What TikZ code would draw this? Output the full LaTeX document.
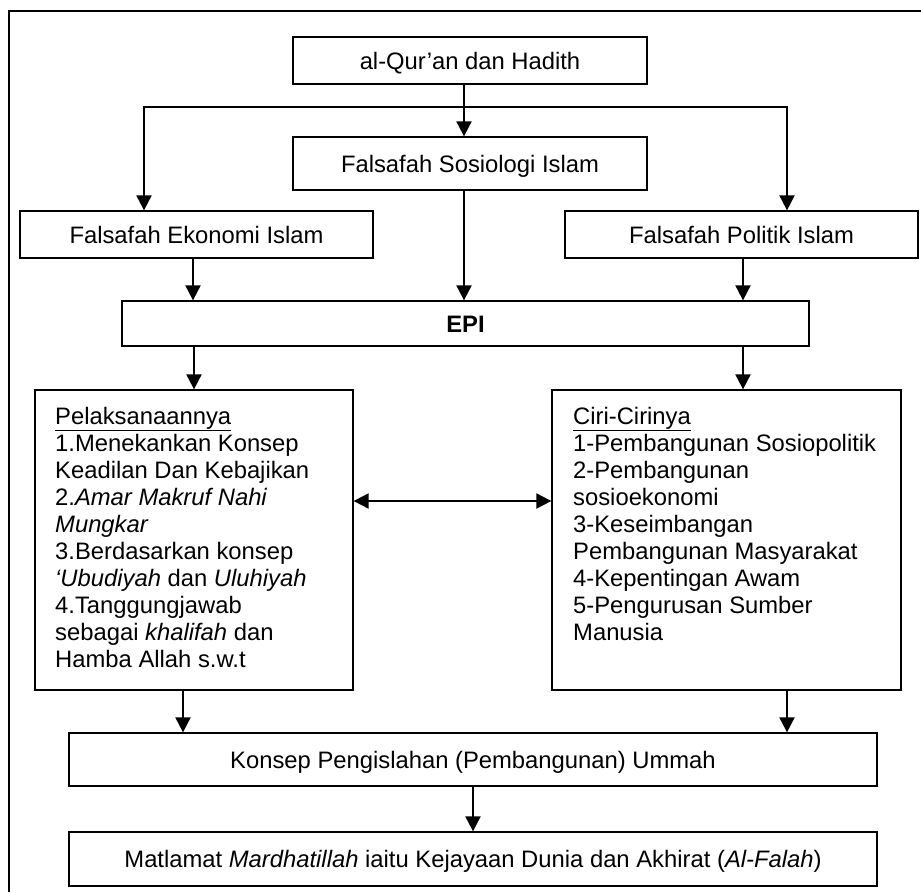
\documentclass[tikz,border=0pt]{standalone}
\usepackage{fontspec}
\setmainfont{Liberation Sans}
\usetikzlibrary{arrows.meta}
\begin{document}
\begin{tikzpicture}[x=1pt,y=-1pt,
  box/.style={draw, line width=1.3pt, inner sep=0pt,
    font=\fontsize{23.8}{27}\selectfont, text height=17pt, text depth=0pt},
  flow/.style={line width=2pt, -{Triangle[length=15pt,width=15pt]}},
  both/.style={line width=2pt,
    {Triangle[length=15pt,width=15pt]}-{Triangle[length=15pt,width=15pt]}},
  listtext/.style={anchor=north west, inner sep=0pt, align=left,
    font=\fontsize{23.8}{27}\selectfont}
]
\useasboundingbox (0,0) rectangle (921,892);
\fill[white] (0,0) rectangle (921,892);
% outer frame
\draw[line width=1.3pt] (921,11) -- (9,11) -- (9,892);

% boxes
\node[box, minimum width=354pt, minimum height=47pt] (quran) at (470,60.5) {al-Qur’an dan Hadith};
\node[box, minimum width=354pt, minimum height=53pt] (sosio) at (470,163.5) {Falsafah Sosiologi Islam};
\node[box, minimum width=353pt, minimum height=47pt] (ekonomi) at (196.5,234.5) {Falsafah Ekonomi Islam};
\node[box, minimum width=353pt, minimum height=47pt] (politik) at (741.5,234.5) {Falsafah Politik Islam};
\node[box, minimum width=687pt, minimum height=45pt] (epi) at (465.5,323.5) {\bfseries EPI};
\node[box, minimum width=318pt, minimum height=300pt] (pelak) at (194,540) {};
\node[box, minimum width=349pt, minimum height=300pt] (ciri) at (726.5,540) {};
\node[box, minimum width=808pt, minimum height=53pt] (konsep) at (473,759.5) {Konsep Pengislahan (Pembangunan) Ummah};
\node[box, minimum width=808pt, minimum height=54pt] (matlamat) at (473,859) {Matlamat \textit{Mardhatillah} iaitu Kejayaan Dunia dan Akhirat (\textit{Al-Falah})};

% list texts
\node[listtext] (pelaktext) at (55,406.6) {\underline{Pelaksanaannya}\\
1.Menekankan Konsep\\
Keadilan Dan Kebajikan\\
2.\textit{Amar Makruf Nahi}\\
\textit{Mungkar}\\
3.Berdasarkan konsep\\
\textit{‘Ubudiyah} dan \textit{Uluhiyah}\\
4.Tanggungjawab\\
sebagai \textit{khalifah} dan\\
Hamba Allah s.w.t};
\node[listtext] (ciritext) at (573,406.6) {\underline{Ciri-Cirinya}\\
1-Pembangunan Sosiopolitik\\
2-Pembangunan\\
sosioekonomi\\
3-Keseimbangan\\
Pembangunan Masyarakat\\
4-Kepentingan Awam\\
5-Pengurusan Sumber\\
Manusia};

% connectors
\coordinate (fork) at (464,107);
\draw[flow] ([xshift=-6pt]quran.south) -- ([xshift=-6pt]sosio.north);
\draw[flow] (fork) -| ([xshift=-52.5pt]ekonomi.north);
\draw[flow] (fork) -| ([xshift=45.5pt]politik.north);
\draw[flow] ([xshift=-3.5pt]ekonomi.south) -- ([xshift=-3.5pt]ekonomi.south |- epi.north);
\draw[flow] ([xshift=-6pt]sosio.south) -- ([xshift=-6pt]sosio.south |- epi.north);
\draw[flow] ([xshift=1.5pt]politik.south) -- ([xshift=1.5pt]politik.south |- epi.north);
\draw[flow] (pelak.north |- epi.south) -- (pelak.north);
\draw[flow] ([xshift=16.5pt]ciri.north |- epi.south) -- ([xshift=16.5pt]ciri.north);
\draw[both] ([yshift=39pt]pelak.east) -- ([yshift=39pt]ciri.west);
\draw[flow] ([xshift=-11pt]pelak.south) -- ([xshift=-11pt]pelak.south |- konsep.north);
\draw[flow] ([xshift=60.5pt]ciri.south) -- ([xshift=60.5pt]ciri.south |- konsep.north);
\draw[flow] (konsep.south) -- (matlamat.north);
\end{tikzpicture}
\end{document}
